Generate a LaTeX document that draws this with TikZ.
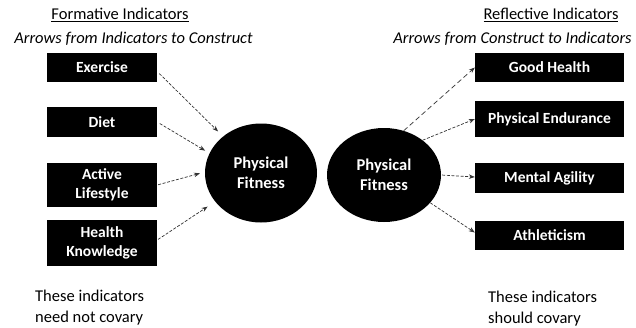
\documentclass[tikz,border=0pt]{standalone}
\usepackage{fontspec}
\setmainfont{Carlito}
\usetikzlibrary{arrows.meta,shapes.geometric}
\begin{document}
\begin{tikzpicture}[x=1pt,y=-1pt,
  indicator/.style={fill=black, text=white, inner sep=0pt, align=center,
    font=\bfseries\fontsize{15.5}{19}\selectfont},
  leftbox/.style={indicator, minimum width=110pt},
  rightbox/.style={indicator, minimum width=149pt},
  construct/.style={ellipse, fill=black, text=white, inner sep=0pt, align=center,
    font=\bfseries\fontsize{16.5}{20}\selectfont},
  link/.style={draw=black!80, line width=0.7pt, dash pattern=on 3pt off 1.6pt,
    -{Stealth[length=6pt,width=4.5pt]}},
  heading/.style={inner sep=0pt, font=\fontsize{16.5}{20}\selectfont},
  note/.style={inner sep=0pt, align=left, anchor=west, font=\fontsize{16.5}{21}\selectfont}
]
\fill[white] (0,0) rectangle (636,327);
\useasboundingbox (0,0) rectangle (636,327);

% headings
\node[heading] (fhead) at (120,15) {\underline{Formative Indicators}};
\node[heading] (fsub) at (133.5,39) {\itshape Arrows from Indicators to Construct};
\node[heading] (rhead) at (551,15) {\underline{Reflective Indicators}};
\node[heading] (rsub) at (512.5,39) {\itshape Arrows from Construct to Indicators};

% formative indicators
\node[leftbox, minimum height=29pt] (ex) at (102,67.5) {Exercise};
\node[leftbox, minimum height=30pt] (diet) at (102,122) {Diet};
\node[leftbox, minimum height=44pt] (act) at (102,185) {Active\\Lifestyle};
\node[leftbox, minimum height=46pt] (hk) at (102,243) {Health\\Knowledge};

% constructs
\node[construct, minimum width=112pt, minimum height=99pt] (pf1) at (261,173) {Physical\\Fitness};
\node[construct, minimum width=114pt, minimum height=94pt] (pf2) at (384,175) {Physical\\Fitness};

% reflective indicators
\node[rightbox, minimum height=29pt] (gh) at (549.5,67.5) {Good Health};
\node[rightbox, minimum height=36pt] (pe) at (549.5,119) {Physical Endurance};
\node[rightbox, minimum height=30pt] (ma) at (549.5,178) {Mental Agility};
\node[rightbox, minimum height=29pt] (ath) at (549.5,235.5) {Athleticism};

% arrows into the formative construct
\draw[link, shorten <=3pt, shorten >=7pt] ([yshift=-4pt]ex.east) -- (pf1.136);
\draw[link, shorten <=3pt, shorten >=5pt] (diet.east) -- (pf1.159);
\draw[link, shorten <=1pt, shorten >=5pt] (act.east) -- (pf1.179);
\draw[link, shorten <=1pt, shorten >=9pt] ([yshift=3pt]hk.east) -- (pf1.212);

% arrows out of the reflective construct
\draw[link, dash pattern=on 5pt off 3pt] (pf2.66) -- (gh.west);
\draw[link] (pf2.42) -- (pe.west);
\draw[link, shorten <=1pt] (pf2.0) -- ([yshift=1pt]ma.west);
\draw[link] (pf2.-31) -- ([yshift=3pt]ath.west);

% notes
\node[note] (fnote) at (35,308) {These indicators\\need not covary};
\node[note] (rnote) at (488,309) {These indicators\\should covary};
\end{tikzpicture}
\end{document}
